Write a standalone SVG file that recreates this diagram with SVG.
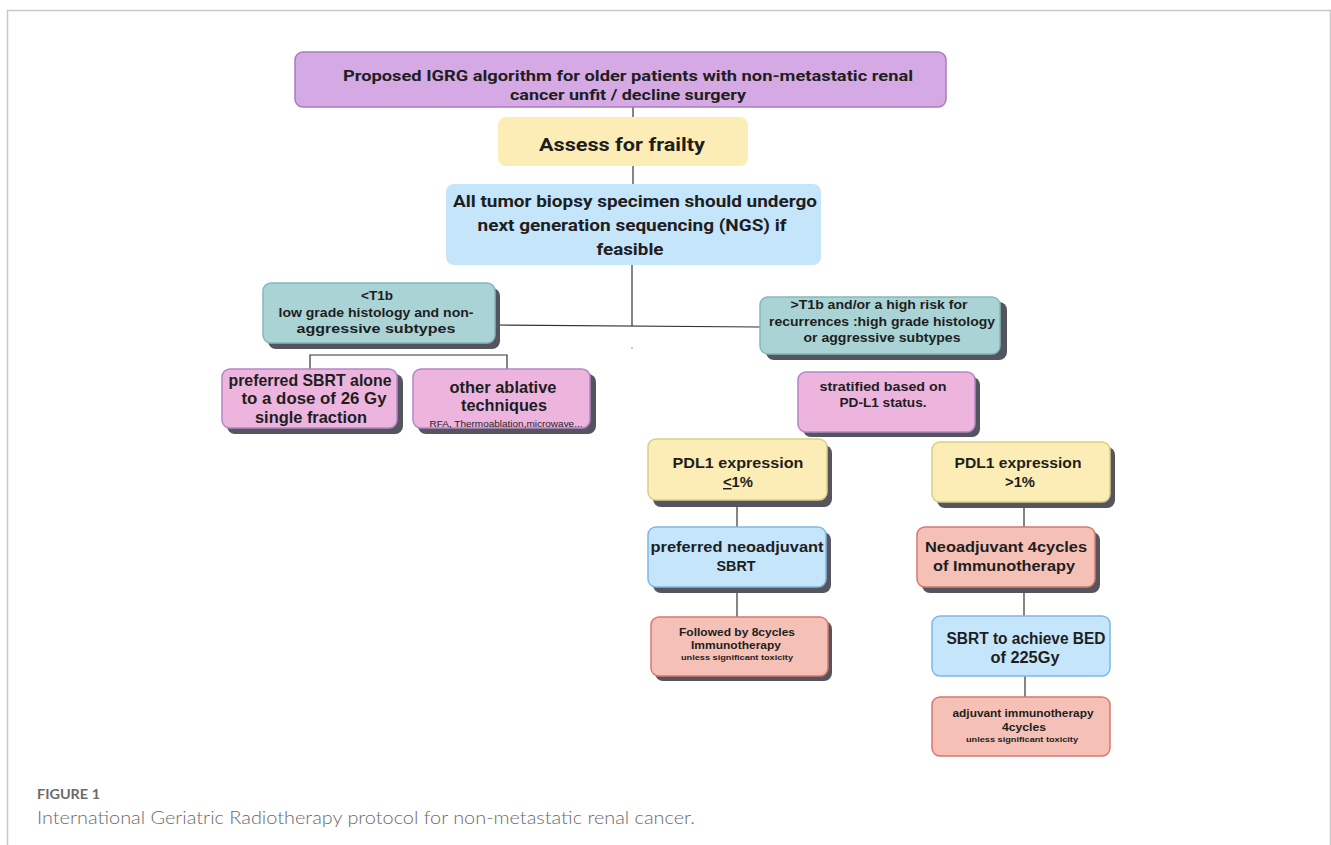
<svg xmlns="http://www.w3.org/2000/svg" width="1331" height="845" viewBox="0 0 1331 845">
<style>
.t{font-family:"Liberation Sans",Arial,sans-serif;font-weight:bold;fill:#1e1e1e;text-anchor:middle}
.c{font-family:Roboto,"Liberation Sans",sans-serif;font-weight:bold;fill:#1e1e1e;text-anchor:middle}
.sh{fill:#55555f}
.purple{fill:#d5a9e3;stroke:#a77bc0;stroke-width:1.5}
.yellow{fill:#fcecb6;stroke:#d9cf82;stroke-width:1.5}
.yel0{fill:#fcecb6}
.blue{fill:#c5e5fb;stroke:#7db8e4;stroke-width:1.5}
.teal{fill:#a9d3d5;stroke:#85b8bc;stroke-width:1.5}
.pink{fill:#edb4de;stroke:#b286c6;stroke-width:1.5}
.salmon{fill:#f5c1b6;stroke:#d9776f;stroke-width:1.5}
.ln{stroke:#333;stroke-width:1.2;fill:none}
.cap{font-family:Lato,"Open Sans",sans-serif;fill:#6a6a6a}
</style>
<rect width="1331" height="845" fill="#fff"/>
<path d="M7.5 845 V10.5 H1330.5 V845" fill="none" stroke="#c8c8c8" stroke-width="1.5"/>

<g id="connectors">
<line class="ln" x1="633" y1="107" x2="633" y2="117"/>
<line class="ln" x1="633" y1="166" x2="633" y2="184"/>
<line class="ln" x1="632" y1="265" x2="632" y2="326"/>
<line class="ln" x1="495" y1="325" x2="760" y2="327"/>
<circle cx="632" cy="348" r="0.8" fill="#888"/>
<path class="ln" d="M310 369 V355 H507 V369"/>
<line class="ln" x1="737" y1="500" x2="737" y2="527"/>
<line class="ln" x1="737" y1="587" x2="737" y2="617"/>
<line class="ln" x1="1024" y1="502" x2="1024" y2="527"/>
<line class="ln" x1="1024" y1="587" x2="1024" y2="616"/>
<line class="ln" x1="1025" y1="676" x2="1025" y2="697"/>
</g>

<g id="n-top">
<rect class="purple" x="295" y="52" width="651" height="55" rx="8"/>
<text class="c" font-size="15" x="628" y="81" textLength="570" lengthAdjust="spacingAndGlyphs">Proposed IGRG algorithm for older patients with non-metastatic renal</text>
<text class="c" font-size="15" x="628" y="100" textLength="236" lengthAdjust="spacingAndGlyphs">cancer unfit / decline surgery</text>
</g>

<g id="n-frailty">
<rect class="yel0" x="498" y="117" width="250" height="49" rx="8"/>
<text class="c" font-size="18" x="622" y="151" textLength="166" lengthAdjust="spacingAndGlyphs">Assess for frailty</text>
</g>

<g id="n-ngs">
<rect fill="#c5e5fb" x="446" y="184" width="375" height="81" rx="8"/>
<text class="c" font-size="17" x="635" y="207" textLength="364" lengthAdjust="spacingAndGlyphs">All tumor biopsy specimen should undergo</text>
<text class="c" font-size="17" x="632" y="231" textLength="309" lengthAdjust="spacingAndGlyphs">next generation sequencing (NGS) if</text>
<text class="c" font-size="17" x="630" y="255" textLength="67" lengthAdjust="spacingAndGlyphs">feasible</text>
</g>

<g id="n-lowrisk">
<rect class="sh" x="268" y="288" width="232" height="61" rx="8"/>
<rect class="teal" x="263" y="283" width="232" height="60" rx="8"/>
<text class="t" font-size="13.5" x="377" y="300" textLength="32" lengthAdjust="spacingAndGlyphs">&lt;T1b</text>
<text class="t" font-size="13.5" x="376" y="317" textLength="195" lengthAdjust="spacingAndGlyphs">low grade histology and non-</text>
<text class="t" font-size="13.5" x="376" y="333" textLength="159" lengthAdjust="spacingAndGlyphs">aggressive  subtypes</text>
</g>

<g id="n-sbrt-alone">
<rect class="sh" x="227" y="374" width="176" height="60" rx="8"/>
<rect class="pink" x="222" y="369" width="175" height="59" rx="8"/>
<text class="t" font-size="17" x="310" y="386" textLength="163" lengthAdjust="spacingAndGlyphs">preferred SBRT alone</text>
<text class="t" font-size="17" x="314" y="404" textLength="145" lengthAdjust="spacingAndGlyphs">to a dose of 26 Gy</text>
<text class="t" font-size="17" x="311" y="423" textLength="112" lengthAdjust="spacingAndGlyphs">single fraction</text>
</g>

<g id="n-ablative">
<rect class="sh" x="418" y="374" width="178" height="60" rx="8"/>
<rect class="pink" x="413" y="369" width="177" height="59" rx="8"/>
<text class="t" font-size="17" x="503" y="393" textLength="107" lengthAdjust="spacingAndGlyphs">other ablative</text>
<text class="t" font-size="17" x="504" y="411" textLength="86" lengthAdjust="spacingAndGlyphs">techniques</text>
<text class="t" font-size="9" x="506" y="427" textLength="153" lengthAdjust="spacingAndGlyphs" style="font-weight:normal">RFA, Thermoablation,microwave...</text>
</g>

<g id="n-highrisk">
<rect class="sh" x="766" y="302" width="241" height="58" rx="8"/>
<rect class="teal" x="760" y="297" width="240" height="57" rx="8"/>
<text class="t" font-size="13.5" x="879" y="309" textLength="177" lengthAdjust="spacingAndGlyphs">&gt;T1b and/or a high risk for</text>
<text class="t" font-size="13.5" x="882" y="326" textLength="226" lengthAdjust="spacingAndGlyphs">recurrences :high grade histology</text>
<text class="t" font-size="13.5" x="882" y="342" textLength="157" lengthAdjust="spacingAndGlyphs">or aggressive subtypes</text>
</g>

<g id="n-stratified">
<rect class="sh" x="803" y="377" width="177" height="60" rx="8"/>
<rect class="pink" x="798" y="372" width="177" height="60" rx="8"/>
<text class="t" font-size="12" x="883" y="391" textLength="127" lengthAdjust="spacingAndGlyphs">stratified  based  on</text>
<text class="t" font-size="12" x="883" y="407" textLength="87" lengthAdjust="spacingAndGlyphs">PD-L1  status.</text>
</g>

<g id="n-pdl1-low">
<rect class="sh" x="653" y="445" width="179" height="62" rx="8"/>
<rect class="yellow" x="648" y="439" width="179" height="61" rx="8"/>
<text class="t" font-size="14.5" x="738" y="468" textLength="131" lengthAdjust="spacingAndGlyphs">PDL1  expression</text>
<text class="t" font-size="14.5" x="738" y="487" textLength="30" lengthAdjust="spacingAndGlyphs"><tspan text-decoration="underline">&lt;</tspan>1%</text>
</g>

<g id="n-pdl1-high">
<rect class="sh" x="937" y="447" width="178" height="61" rx="8"/>
<rect class="yellow" x="932" y="442" width="178" height="60" rx="8"/>
<text class="t" font-size="14.5" x="1018" y="468" textLength="127" lengthAdjust="spacingAndGlyphs">PDL1 expression</text>
<text class="t" font-size="14.5" x="1020" y="487" textLength="30" lengthAdjust="spacingAndGlyphs">&gt;1%</text>
</g>

<g id="n-neo-sbrt">
<rect class="sh" x="653" y="532" width="178" height="61" rx="8"/>
<rect class="blue" x="648" y="527" width="178" height="60" rx="8"/>
<text class="t" font-size="15" x="737" y="552" textLength="173" lengthAdjust="spacingAndGlyphs">preferred neoadjuvant</text>
<text class="t" font-size="15" x="736" y="571" textLength="39" lengthAdjust="spacingAndGlyphs">SBRT</text>
</g>

<g id="n-neo-immuno">
<rect class="sh" x="922" y="532" width="178" height="61" rx="8"/>
<rect class="salmon" x="917" y="527" width="178" height="60" rx="8"/>
<text class="t" font-size="15" x="1006" y="552" textLength="162" lengthAdjust="spacingAndGlyphs">Neoadjuvant 4cycles</text>
<text class="t" font-size="15" x="1004" y="571" textLength="142" lengthAdjust="spacingAndGlyphs">of Immunotherapy</text>
</g>

<g id="n-followed">
<rect class="sh" x="655" y="621" width="177" height="60" rx="8"/>
<rect class="salmon" x="651" y="617" width="177" height="59" rx="8"/>
<text class="t" font-size="11" x="737" y="636" textLength="116" lengthAdjust="spacingAndGlyphs">Followed by 8cycles</text>
<text class="t" font-size="11" x="736" y="649" textLength="90" lengthAdjust="spacingAndGlyphs">Immunotherapy</text>
<text class="t" font-size="8" x="737" y="660" textLength="112" lengthAdjust="spacingAndGlyphs">unless significant toxicity</text>
</g>

<g id="n-sbrt-bed">
<rect class="blue" x="932" y="616" width="178" height="60" rx="8"/>
<text class="t" font-size="16" x="1026" y="644" textLength="159" lengthAdjust="spacingAndGlyphs">SBRT to achieve BED</text>
<text class="t" font-size="16" x="1025" y="663" textLength="69" lengthAdjust="spacingAndGlyphs">of 225Gy</text>
</g>

<g id="n-adjuvant">
<rect class="salmon" x="932" y="697" width="178" height="59" rx="8"/>
<text class="t" font-size="11" x="1023" y="717" textLength="141" lengthAdjust="spacingAndGlyphs">adjuvant immunotherapy</text>
<text class="t" font-size="11" x="1024" y="731" textLength="44" lengthAdjust="spacingAndGlyphs">4cycles</text>
<text class="t" font-size="8" x="1022" y="742" textLength="112" lengthAdjust="spacingAndGlyphs">unless significant toxicity</text>
</g>

<g id="caption">
<text class="cap" x="37" y="799" font-size="13.5" font-weight="bold" fill="#5a5a5a" textLength="63" lengthAdjust="spacingAndGlyphs">FIGURE 1</text>
<text class="cap" x="37" y="824" font-size="17" font-weight="300" textLength="658" lengthAdjust="spacingAndGlyphs">International Geriatric Radiotherapy protocol for non-metastatic renal cancer.</text>
</g>
</svg>
